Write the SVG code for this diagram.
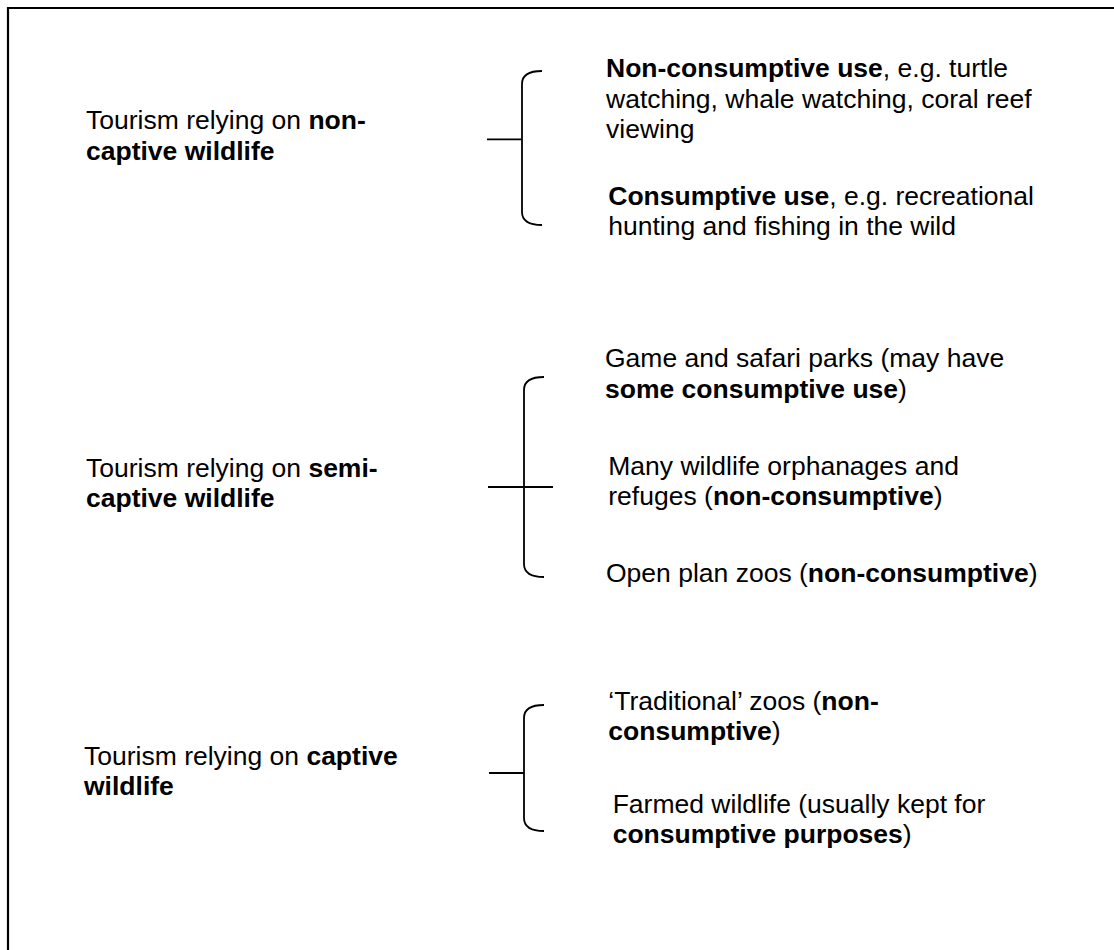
<svg xmlns="http://www.w3.org/2000/svg" width="1114" height="950" viewBox="0 0 1114 950">
<style>
text { font-family: "Liberation Sans", Arial, sans-serif; font-size: 26.5px; fill: #000; }
.b { font-weight: bold; }
.ln { fill: none; stroke: #000; stroke-width: 1.8; }
.frame { fill: none; stroke: #000; stroke-width: 2.2; }
</style>
<rect width="1114" height="950" fill="#fff"/>
<path class="frame" d="M8,960 V8 H1124"/>
<g id="connectors">
<path class="ln" d="M542,71 C530,71 522,75 522,84 V212 C522,221 530,225 542,225"/>
<path class="ln" d="M487,139.3 H522"/>
<path class="ln" d="M544,377 C532,377 524,381 524,390 V564 C524,573 532,577 544,577"/>
<path class="ln" d="M488,487 H553"/>
<path class="ln" d="M544,705 C532,705 524,709 524,718 V818 C524,827 532,831 544,831"/>
<path class="ln" d="M489,773 H524"/>
</g>
<g id="n-noncaptive">
<text x="86" y="129.3">Tourism relying on <tspan class="b">non-</tspan></text>
<text x="86" y="160" class="b">captive wildlife</text>
</g>
<g id="n-nonconsumptive">
<text x="606" y="77"><tspan class="b">Non-consumptive use</tspan>, e.g. turtle</text>
<text x="606" y="107.5">watching, whale watching, coral reef</text>
<text x="606" y="138">viewing</text>
</g>
<g id="n-consumptive">
<text x="608.3" y="205"><tspan class="b">Consumptive use</tspan>, e.g. recreational</text>
<text x="608.3" y="235">hunting and fishing in the wild</text>
</g>
<g id="n-semicaptive">
<text x="86" y="477.3">Tourism relying on <tspan class="b">semi-</tspan></text>
<text x="86" y="506.7" class="b">captive wildlife</text>
</g>
<g id="n-game">
<text x="605" y="366.7">Game and safari parks (may have</text>
<text x="605" y="398.3"><tspan class="b">some consumptive use</tspan>)</text>
</g>
<g id="n-orphanages">
<text x="608.3" y="475">Many wildlife orphanages and</text>
<text x="608.3" y="505">refuges (<tspan class="b">non-consumptive</tspan>)</text>
</g>
<g id="n-openplan">
<text x="606" y="581.7">Open plan zoos (<tspan class="b">non-consumptive</tspan>)</text>
</g>
<g id="n-captive">
<text x="84" y="765">Tourism relying on <tspan class="b">captive</tspan></text>
<text x="84" y="795" class="b">wildlife</text>
</g>
<g id="n-traditional">
<text x="608.3" y="710">‘Traditional’ zoos (<tspan class="b">non-</tspan></text>
<text x="608.3" y="740"><tspan class="b">consumptive</tspan>)</text>
</g>
<g id="n-farmed">
<text x="612.7" y="813.3">Farmed wildlife (usually kept for</text>
<text x="612.7" y="843.3"><tspan class="b">consumptive purposes</tspan>)</text>
</g>
</svg>
